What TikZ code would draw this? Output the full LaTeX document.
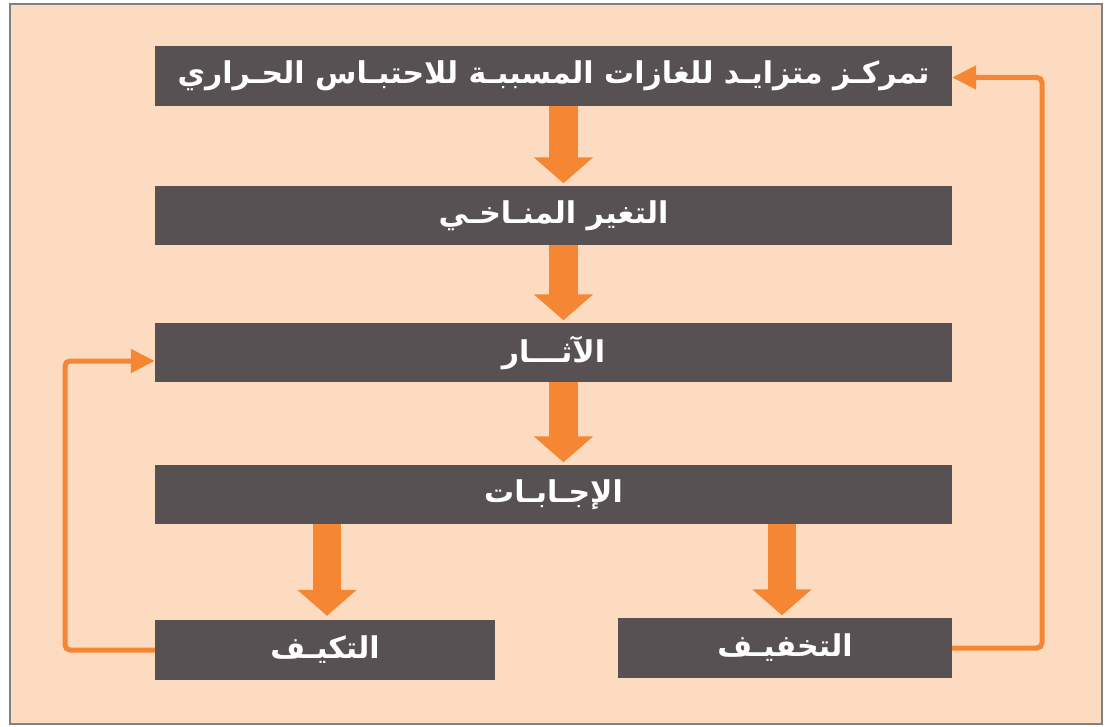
\documentclass[tikz,border=0pt]{standalone}
\usepackage{fontspec}
\usetikzlibrary{arrows.meta}
\TeXXeTstate=1
\newfontfamily\arabicfont[Script=Arabic]{DejaVu Sans}
\definecolor{bg}{HTML}{FDDBC0}
\definecolor{boxc}{HTML}{575153}
\definecolor{org}{HTML}{F58634}
\definecolor{framec}{HTML}{808080}
\begin{document}
\begin{tikzpicture}[x=1pt,y=-1pt,
 box/.style={fill=boxc, draw=none, inner sep=0pt, text=white, font=\arabicfont\bfseries\fontsize{30}{34}\selectfont},
 bigarrow/.style={draw=org, line width=28.5pt, -{Triangle[width=58pt,length=26pt]}},
 fb/.style={draw=org, line width=5pt, rounded corners=5pt, -{Triangle[width=23pt,length=24pt]}}]
\useasboundingbox (0,0) rectangle (1111,727);
\fill[bg] (10,4) rectangle (1102,724);
\draw[framec, line width=1.5pt] (10,4) rectangle (1102,724);
\node[box, minimum width=797pt, minimum height=60pt] (n1) at (553.5,76) {\beginR تمركـز متزايـد للغازات المسببـة للاحتبـاس الحـراري\endR};
\node[box, minimum width=797pt, minimum height=59pt] (n2) at (553.5,215.5) {\beginR التغير المنـاخـي\endR};
\node[box, minimum width=797pt, minimum height=59pt] (n3) at (553.5,352.5) {\beginR الآثـــار\endR};
\node[box, minimum width=797pt, minimum height=59pt] (n4) at (553.5,494.5) {\beginR الإجـابـات\endR};
\node[box, minimum width=340pt, minimum height=60pt] (n5) at (325,650) {\beginR التكيـف\endR};
\node[box, minimum width=334pt, minimum height=60pt] (n6) at (785,648) {\beginR التخفيـف\endR};
\coordinate (ax) at (563.5,0);
\coordinate (bl) at (327,0);
\coordinate (br) at (782,0);
\draw[bigarrow, shorten >=2.5pt] (ax |- n1.south) -- (ax |- n2.north);
\draw[bigarrow, shorten >=2.5pt] (ax |- n2.south) -- (ax |- n3.north);
\draw[bigarrow, shorten >=2.5pt] (ax |- n3.south) -- (ax |- n4.north);
\draw[bigarrow, shorten >=4pt] (bl |- n4.south) -- (bl |- n5.north);
\draw[bigarrow, shorten >=2.5pt] (br |- n4.south) -- (br |- n6.north);
\coordinate (l1) at (65,650);
\coordinate (l2) at (65,361);
\coordinate (r1) at (1042,648);
\coordinate (r2) at (1042,77.5);
\draw[fb] (n5.west) -- (l1) -- (l2) -- (l2 -| n3.west);
\draw[fb] (n6.east) -- (r1) -- (r2) -- (r2 -| n1.east);
\end{tikzpicture}
\end{document}
